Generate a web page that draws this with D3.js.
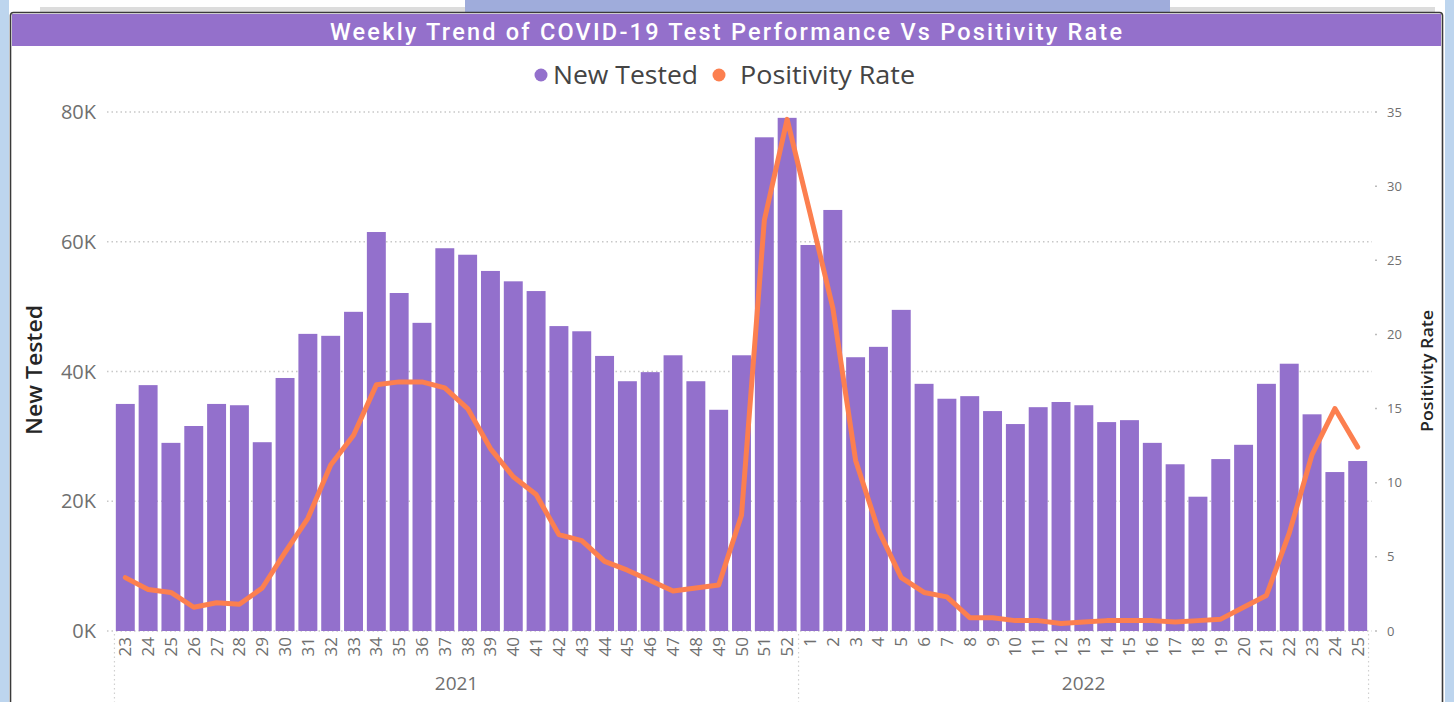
<!DOCTYPE html>
<html>
<head>
<meta charset="utf-8">
<script src="https://cdn.jsdelivr.net/npm/d3@7"></script>
<style>
  body { margin: 0; background: #fff; overflow: hidden; }
  svg { display: block; }
</style>
</head>
<body>
<svg id="chart" width="1454" height="702"></svg>
<script>
// weeks shown on the x axis, grouped by year
var weeks2021 = [23,24,25,26,27,28,29,30,31,32,33,34,35,36,37,38,39,40,41,42,43,44,45,46,47,48,49,50,51,52];
var weeks2022 = [1,2,3,4,5,6,7,8,9,10,11,12,13,14,15,16,17,18,19,20,21,22,23,24,25];
var years = ["2021", "2022"];

// New Tested (bars)
var newTested = [
  35000, 37900, 29000, 31600, 35000, 34800, 29100, 39000, 45800, 45500,
  49200, 61500, 52100, 47500, 59000, 58000, 55500, 53900, 52400, 47000,
  46200, 42400, 38500, 39900, 42500, 38500, 34100, 42500, 76100, 79100,
  59500, 64900, 42200, 43800, 49500, 38100, 35800, 36200, 33900, 31900,
  34500, 35300, 34800, 32200, 32500, 29000, 25700, 20700, 26500, 28700,
  38100, 41200, 33400, 24500, 26200
];

// Positivity Rate (line, %)
var positivityRate = [
  3.6, 2.8, 2.6, 1.6, 1.9, 1.8, 2.9, 5.3, 7.6, 11.2,
  13.2, 16.6, 16.8, 16.8, 16.4, 15.0, 12.3, 10.4, 9.2, 6.5,
  6.1, 4.7, 4.1, 3.4, 2.7, 2.9, 3.1, 7.8, 27.7, 34.5,
  28.2, 21.8, 11.5, 6.8, 3.6, 2.6, 2.3, 0.9, 0.9, 0.7,
  0.7, 0.5, 0.6, 0.7, 0.7, 0.7, 0.6, 0.7, 0.8, 1.6,
  2.4, 6.6, 11.9, 15.0, 12.4
];

var leftTicks = [0, 20000, 40000, 60000, 80000];
var rightTicks = [0, 5, 10, 15, 20, 25, 30, 35];

var COLOR = {
  BAR: "#9370CC",
  LINE: "#FC7F4F",
  TITLE_BG: "#9470CB",
  TICK: "#6f6f6f",
  GRID: "#c8c8c8"
};

var FONT = "'Open Sans', 'Noto Sans', sans-serif";

var data = [];
weeks2021.forEach(function (w) { data.push({ year: "2021", week: w }); });
weeks2022.forEach(function (w) { data.push({ year: "2022", week: w }); });
data.forEach(function (d, i) {
  d.key = d.year + "-" + d.week;
  d.tested = newTested[i];
  d.rate = positivityRate[i];
});

var svg = d3.select("#chart");

/// PAGE FRAME ///
svg.append("rect").attr("x", 0).attr("y", 0).attr("width", 9).attr("height", 702).attr("fill", "#BDD5EE");
svg.append("rect").attr("x", 1445).attr("y", 0).attr("width", 9).attr("height", 702).attr("fill", "#BDD5EE");
svg.append("rect").attr("x", 40).attr("y", 7).attr("width", 1395).attr("height", 6).attr("fill", "#dcdcdc");
svg.append("rect").attr("x", 465).attr("y", 0).attr("width", 705).attr("height", 13).attr("fill", "#9FACDB");

svg.append("rect")
  .attr("x", 10.5).attr("y", 12.5)
  .attr("width", 1432).attr("height", 720)
  .attr("rx", 3)
  .attr("fill", "#fff")
  .attr("stroke", "#3a3a3a")
  .attr("stroke-width", 1.6);

// title bar
svg.append("rect")
  .attr("x", 12).attr("y", 14)
  .attr("width", 1429).attr("height", 32)
  .attr("fill", COLOR.TITLE_BG);

svg.append("text")
  .attr("x", 726).attr("y", 39.5)
  .attr("text-anchor", "middle")
  .attr("fill", "#fff")
  .style("font-family", "Roboto, 'Noto Sans', sans-serif")
  .style("font-size", "23.5px")
  .style("font-weight", "500")
  .attr("textLength", 792)
  .attr("lengthAdjust", "spacing")
  .text("Weekly Trend of COVID-19 Test Performance Vs Positivity Rate");

/// LEGEND ///
var legend = svg.append("g").attr("class", "legend");
legend.append("circle").attr("cx", 541).attr("cy", 75).attr("r", 6.5).attr("fill", COLOR.BAR);
legend.append("text").attr("x", 553).attr("y", 84)
  .attr("fill", "#444").style("font-family", FONT).style("font-size", "25px")
  .attr("textLength", 145).attr("lengthAdjust", "spacingAndGlyphs")
  .text("New Tested");
legend.append("circle").attr("cx", 719).attr("cy", 75).attr("r", 6.5).attr("fill", COLOR.LINE);
legend.append("text").attr("x", 740).attr("y", 84)
  .attr("fill", "#444").style("font-family", FONT).style("font-size", "25px")
  .attr("textLength", 175).attr("lengthAdjust", "spacingAndGlyphs")
  .text("Positivity Rate");

/// SCALES ///
var x = d3.scaleBand()
  .domain(data.map(function (d) { return d.key; }))
  .range([114, 1369])
  .paddingInner(0.17)
  .paddingOuter(0.08);

var yLeft = d3.scaleLinear().domain([0, 80000]).range([631, 112]);
var yRight = d3.scaleLinear().domain([0, 35]).range([631, 112]);

// gridlines
svg.append("g").attr("class", "grid")
  .selectAll("line")
  .data(leftTicks)
  .enter()
  .append("line")
  .attr("x1", 107).attr("x2", 1372)
  .attr("y1", function (d) { return yLeft(d); })
  .attr("y2", function (d) { return yLeft(d); })
  .attr("stroke", COLOR.GRID)
  .attr("stroke-width", 1.5)
  .attr("stroke-dasharray", "1.5,3");

// left axis labels
svg.append("g").attr("class", "axis-left")
  .selectAll("text")
  .data(leftTicks)
  .enter()
  .append("text")
  .attr("x", 96)
  .attr("y", function (d) { return yLeft(d) + 7; })
  .attr("text-anchor", "end")
  .attr("fill", COLOR.TICK)
  .style("font-family", FONT)
  .style("font-size", "20px")
  .text(function (d) { return d / 1000 + "K"; });

// right axis labels + small ticks
var rightAxis = svg.append("g").attr("class", "axis-right");
rightAxis.selectAll("text")
  .data(rightTicks)
  .enter()
  .append("text")
  .attr("x", 1387)
  .attr("y", function (d) { return yRight(d) + 4.5; })
  .attr("fill", COLOR.TICK)
  .style("font-family", FONT)
  .style("font-size", "13px")
  .text(function (d) { return d; });
rightAxis.selectAll("line")
  .data(rightTicks)
  .enter()
  .append("line")
  .attr("x1", 1375).attr("x2", 1377)
  .attr("y1", function (d) { return yRight(d); })
  .attr("y2", function (d) { return yRight(d); })
  .attr("stroke", "#bbb")
  .attr("stroke-width", 1.5);

// axis titles
svg.append("text")
  .attr("transform", "translate(42,370) rotate(-90)")
  .attr("text-anchor", "middle")
  .attr("fill", "#252525")
  .style("font-family", FONT)
  .style("font-size", "21px")
  .style("font-weight", "600")
  .attr("textLength", 130)
  .attr("lengthAdjust", "spacingAndGlyphs")
  .text("New Tested");

svg.append("text")
  .attr("transform", "translate(1433,371) rotate(-90)")
  .attr("text-anchor", "middle")
  .attr("fill", "#252525")
  .style("font-family", FONT)
  .style("font-size", "16px")
  .style("font-weight", "600")
  .attr("textLength", 122)
  .attr("lengthAdjust", "spacingAndGlyphs")
  .text("Positivity Rate");

/// BARS ///
svg.append("g").attr("class", "bars")
  .selectAll("rect")
  .data(data)
  .enter()
  .append("rect")
  .attr("x", function (d) { return x(d.key); })
  .attr("y", function (d) { return yLeft(d.tested); })
  .attr("width", x.bandwidth())
  .attr("height", function (d) { return yLeft(0) - yLeft(d.tested); })
  .attr("fill", COLOR.BAR);

/// LINE ///
var line = d3.line()
  .x(function (d) { return x(d.key) + x.bandwidth() / 2; })
  .y(function (d) { return yRight(d.rate); });

svg.append("path")
  .datum(data)
  .attr("d", line)
  .attr("fill", "none")
  .attr("stroke", COLOR.LINE)
  .attr("stroke-width", 5)
  .attr("stroke-linejoin", "round")
  .attr("stroke-linecap", "round");

/// X AXIS ///
svg.append("g").attr("class", "axis-x")
  .selectAll("text")
  .data(data)
  .enter()
  .append("text")
  .attr("transform", function (d) {
    return "translate(" + (x(d.key) + x.bandwidth() / 2 + 6) + ",637) rotate(-90)";
  })
  .attr("text-anchor", "end")
  .attr("fill", COLOR.TICK)
  .style("font-family", FONT)
  .style("font-size", "17px")
  .text(function (d) { return d.week; });

// year group separators
var firstKey = data[0].key;
var lastKey = data[data.length - 1].key;
var splitKey = "2022-1";
var sepX = [
  x(firstKey) - x.step() * 0.06,
  x(splitKey) - x.step() * x.paddingInner() / 2,
  x(lastKey) + x.bandwidth() + x.step() * 0.06
];
svg.append("g").attr("class", "year-sep")
  .selectAll("line")
  .data(sepX)
  .enter()
  .append("line")
  .attr("x1", function (d) { return d; })
  .attr("x2", function (d) { return d; })
  .attr("y1", 634).attr("y2", 702)
  .attr("stroke", "#d0d0d0")
  .attr("stroke-width", 1.2)
  .attr("stroke-dasharray", "1.5,3");

svg.append("g").attr("class", "years")
  .selectAll("text")
  .data(years)
  .enter()
  .append("text")
  .attr("x", function (d, i) { return (sepX[i] + sepX[i + 1]) / 2; })
  .attr("y", 690)
  .attr("text-anchor", "middle")
  .attr("fill", COLOR.TICK)
  .style("font-family", FONT)
  .style("font-size", "19px")
  .text(function (d) { return d; });
</script>
</body>
</html>
